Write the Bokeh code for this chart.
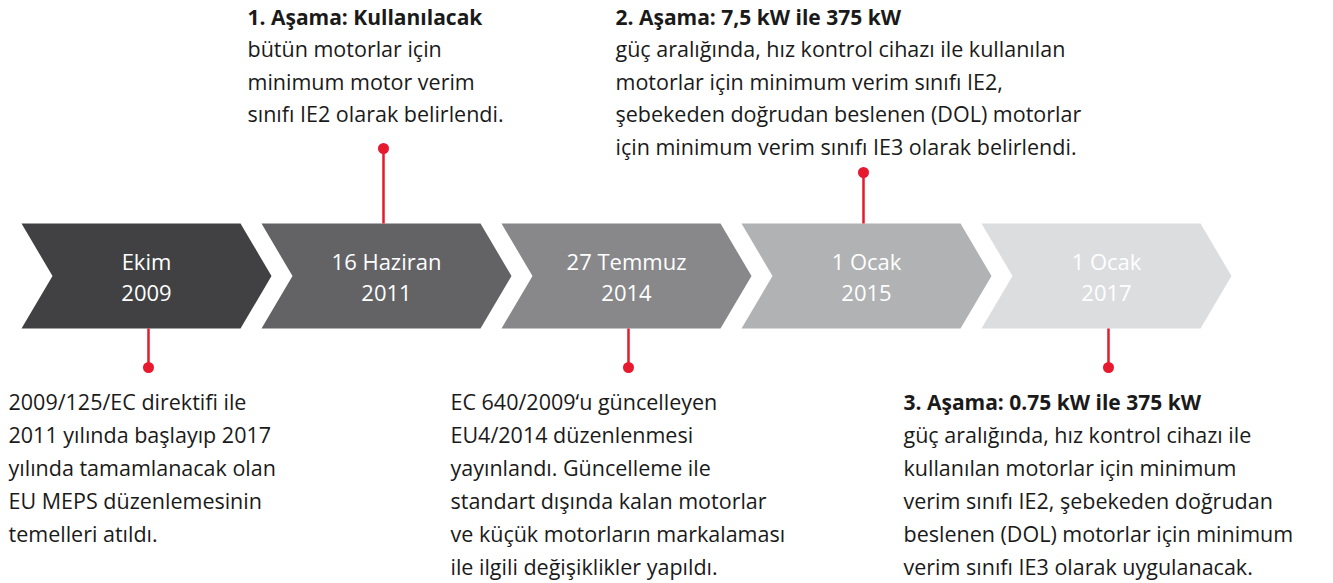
from bokeh.plotting import figure
from bokeh.models import Range1d
from bokeh.core.properties import value
from bokeh.embed import file_html
from bokeh.resources import INLINE

# ---------------- data ----------------
dates = ["Ekim", "16 Haziran", "27 Temmuz", "1 Ocak", "1 Ocak"]
years = ["2009", "2011", "2014", "2015", "2017"]
sides = ["down", "up", "down", "up", "down"]
note_heads = ["", "1. Aşama: Kullanılacak", "", "2. Aşama: 7,5 kW ile 375 kW",
              "3. Aşama: 0.75 kW ile 375 kW"]
note_bodies = [
    ["2009/125/EC direktifi ile", "2011 yılında başlayıp 2017",
     "yılında tamamlanacak olan", "EU MEPS düzenlemesinin", "temelleri atıldı."],
    ["bütün motorlar için", "minimum motor verim", "sınıfı IE2 olarak belirlendi."],
    ["EC 640/2009‘u güncelleyen", "EU4/2014 düzenlenmesi",
     "yayınlandı. Güncelleme ile", "standart dışında kalan motorlar",
     "ve küçük motorların markalaması", "ile ilgili değişiklikler yapıldı."],
    ["güç aralığında, hız kontrol cihazı ile kullanılan",
     "motorlar için minimum verim sınıfı IE2,",
     "şebekeden doğrudan beslenen (DOL) motorlar",
     "için minimum verim sınıfı IE3 olarak belirlendi."],
    ["güç aralığında, hız kontrol cihazı ile",
     "kullanılan motorlar için minimum",
     "verim sınıfı IE2, şebekeden doğrudan",
     "beslenen (DOL) motorlar için minimum",
     "verim sınıfı IE3 olarak uygulanacak."],
]

# ---------------- styles / layout ----------------
fill_colors = ["#414143", "#636366", "#88888b", "#b1b2b4", "#dcdddf"]
RED = "#e6192e"
FONT = "Open Sans"
BODY_SIZE, HEAD_SIZE = "21.5px", "21px"
W, H = 1333, 583
X0, STEP, BODY, TIP = 21, 240, 219, 31
TOP, BOT = 223, 328
MID = (TOP + BOT) / 2
line_h = {"up": 32.4, "down": 33.0}
note_x_off = [-13, -14, -51, -126, -78]
note_top = {"up": 16, "down": 401}
stem_off = {"up": 122, "down": 127}
dot_y = [367, 148, 367, 172, 367]

p = figure(width=W, height=H, output_backend="svg", toolbar_location=None,
           x_range=Range1d(0, W), y_range=Range1d(H, 0),
           min_border=0, outline_line_color=None)
p.axis.visible = False
p.grid.visible = False
p.background_fill_color = "white"
p.border_fill_color = "white"

xs, ys = [], []
for i in range(len(dates)):
    L = X0 + STEP * i
    xs.append([L, L + BODY, L + BODY + TIP, L + BODY, L, L + TIP])
    ys.append([TOP, TOP, MID, BOT, BOT, MID])
p.patches(xs, ys, fill_color=fill_colors, line_color=None)

cx = [X0 + STEP * i + 125 for i in range(len(dates))]
p.text(cx, [260] * len(dates), text=dates, text_color="white", text_font=value(FONT),
       text_font_size="22px", text_align="center", text_baseline="middle")
p.text(cx, [292] * len(dates), text=years, text_color="white", text_font=value(FONT),
       text_font_size="22px", text_align="center", text_baseline="middle")

for i in range(len(dates)):
    L = X0 + STEP * i
    side = sides[i]
    tx = L + note_x_off[i]
    y = note_top[side]
    if note_heads[i]:
        p.text([tx], [y], text=[note_heads[i]], text_color="#1a1a1a", text_font=value(FONT),
               text_font_size=HEAD_SIZE, text_align="left", text_baseline="middle",
               text_font_style="bold")
        y += line_h[side]
    body = note_bodies[i]
    ly = [y + line_h[side] * k for k in range(len(body))]
    p.text([tx] * len(body), ly, text=body, text_color="#1a1a1a", text_font=value(FONT),
           text_font_size=BODY_SIZE, text_align="left", text_baseline="middle")
    sx = L + stem_off[side]
    dy = dot_y[i]
    if side == "up":
        p.segment(sx, dy, sx, TOP, line_color=RED, line_width=2.5)
    else:
        p.segment(sx, BOT, sx, dy, line_color=RED, line_width=2.5)
    p.scatter([sx], [dy], size=11, fill_color=RED, line_color=None)

open("out.html", "w").write(file_html(p, INLINE))
